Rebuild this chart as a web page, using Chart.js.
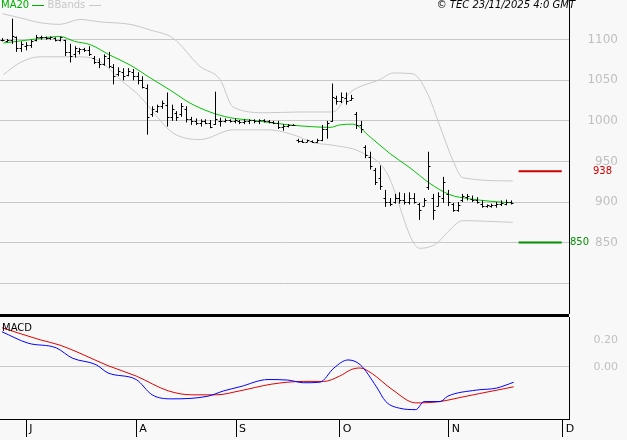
<!DOCTYPE html>
<html><head><meta charset="utf-8">
<script src="https://cdn.jsdelivr.net/npm/chart.js@4.4.1/dist/chart.umd.min.js"></script>
<style>
body{margin:0;background:#f8f8f8;width:627px;height:440px;overflow:hidden;position:relative;font-family:"DejaVu Sans",sans-serif}
#c1{position:absolute;left:0;top:0}
#c2{position:absolute;left:0;top:317px}
#sep{position:absolute;left:0;top:314px;width:569px;height:3px;background:#000}
.t{position:absolute;font-size:10px;white-space:nowrap}
</style></head><body>
<canvas id="c1" width="627" height="314"></canvas>
<div id="sep"></div>
<canvas id="c2" width="627" height="123"></canvas>
<div class="t" style="left:1px;top:-1px;color:#00b000">MA20 <span style="display:inline-block;width:12px;border-top:1px solid #00b000;vertical-align:middle"></span> <span style="color:#c8c8c8">BBands <span style="display:inline-block;width:12px;border-top:1px solid #c8c8c8;vertical-align:middle"></span></span></div>
<div class="t" style="right:52px;top:-1px;font-style:italic;color:#000">© TEC 23/11/2025 4:0 GMT</div>
<div class="t" style="left:2px;top:322px;color:#000">MACD</div>
<script>
const barIdx=[];for(let i=-5;i<=100;i++)barIdx.push(i);
const highs=[1102,1101,1126,1104,1098,1097,1100,1106,1105,1104,1104,1103,1104,1100,1095,1092,1090,1090,1092,1080,1077,1082,1085,1070,1066,1065,1065,1064,1060,1055,1045,1018,1020,1025,1035,1020,1012,1022,1018,1005,1003,1002,1002,1001,1036,1004,1003,1002,1003,1001,1002,1002,1002,1002,1002,1001,1000,1000,996,996,996,978,977,977,976,978,995,1000,1046,1031,1035,1035,1032,1011,1000,970,962,942,945,915,905,910,912,911,912,911,899,905,962,910,912,931,915,899,900,910,910,908,906,902,897,898,900,902,903,902];
const lows=[1098,1097,1095,1085,1085,1087,1090,1098,1100,1100,1100,1098,1098,1080,1072,1078,1082,1085,1080,1070,1065,1068,1065,1045,1055,1050,1055,1050,1045,1040,983,1005,1010,1015,993,1000,1000,1005,998,995,995,993,996,991,995,993,998,998,997,996,996,996,997,996,998,997,996,990,988,992,994,973,973,974,973,973,975,978,999,1020,1022,1020,1025,990,985,954,940,921,915,894,895,898,898,897,897,898,878,895,915,878,895,899,895,888,888,900,902,900,898,893,893,893,893,895,896,897];
const opens=[1100,1099,1100,1103,1090,1092,1094,1100,1104,1103,1102,1102,1100,1100,1085,1082,1086,1088,1087,1078,1072,1070,1078,1066,1058,1060,1056,1060,1055,1050,1040,1008,1012,1018,1020,1005,1010,1008,1015,1002,1000,998,1000,998,996,1000,1000,1001,1000,1000,999,1000,1001,1000,1001,1000,999,998,992,994,995,976,975,974,975,974,977,990,1000,1028,1025,1028,1026,1008,995,968,955,940,930,905,900,900,905,902,900,905,898,895,918,905,895,905,910,898,890,902,906,904,902,898,895,895,896,897,898,900];
const closes=[1100,1100,1105,1090,1095,1094,1098,1104,1103,1102,1103,1100,1103,1085,1080,1090,1088,1087,1082,1072,1070,1080,1068,1055,1062,1055,1062,1055,1050,1042,1005,1015,1018,1022,1005,1015,1005,1018,1002,1000,998,1000,998,993,1002,1000,1001,1000,1001,999,1000,1001,1000,1001,1000,999,998,992,994,995,995,975,974,976,974,977,990,998,1030,1025,1030,1025,1028,995,990,958,945,925,920,900,898,905,902,900,905,900,890,902,945,890,908,925,900,890,896,908,908,902,900,895,896,896,897,899,900,899];
const maIdx=[-4.7,0.8,7,10,13.2,17.3,21.4,25.6,29.7,33.8,37.9,42,46.2,50.3,54.4,58.6,62.7,64.7,67.4,71,75,79,83.3,87.4,91.5,95.7,100.4];
const ma20=[1096,1100,1104,1098,1094,1081,1069,1053,1038,1022,1011,1004,1001,998,995,993,992,995,996,980,960,943,923,909,904,901,899];
const bbUpIdx=[-4.9,-1.2,2.9,7,11.1,15.3,21.4,25.6,30.3,35.9,40,42.7,49.7,56.5,63.3,66.8,73,75.7,79.8,82.7,85.4,88,90.1,100.4];
const bbUp=[1132,1127,1121,1119,1125,1122,1119,1112,1102,1067,1051,1017,1010,1011,1011,1035,1051,1059,1058,1035,993,952,930,926];
const bbLoIdx=[-4.7,-1.2,2.9,11.1,15.3,19.4,23.5,27.6,30.3,35.9,42.7,49.7,56.5,58.6,63.3,68.9,74.4,79.8,81.2,84.7,86.8,90.1,100.4];
const bbLo=[1057,1072,1079,1079,1073,1051,1030,1001,985,977,989,989,980,974,970,962,936,851,843,849,862,877,875];
const levels=[{v:938,c:'#d00000'},{v:850,c:'#009000'}];
const priceTicks=[800,850,900,950,1000,1050,1100];
const macdIdx=[-5,0.4,6.2,9.5,14.4,16.9,22.7,26,30.1,37.5,40.8,44.1,49.9,54,57.3,60.6,63.5,66.4,68.9,72.2,74.2,77.1,80.4,82.1,85.4,87,92.8,97,100.6];
const macd=[0.26,0.175,0.14,0.064,0.015,-0.047,-0.096,-0.21,-0.24,-0.22,-0.18,-0.15,-0.096,-0.1,-0.12,-0.116,-0.01,0.05,0.015,-0.146,-0.26,-0.31,-0.32,-0.26,-0.26,-0.22,-0.175,-0.16,-0.116];
const sigIdx=[-5,2.9,7,11.1,16.9,22.7,29.3,34.2,39.2,44.1,50.7,57.3,61.4,64.7,67.2,68.9,71.3,75.5,80.4,85.4,89.5,93.6,100.6];
const signal=[0.29,0.2,0.16,0.1,0.007,-0.07,-0.18,-0.21,-0.21,-0.18,-0.13,-0.11,-0.11,-0.07,-0.02,-0.01,-0.05,-0.17,-0.27,-0.26,-0.23,-0.2,-0.15];
const monthIdx=[0,22.7,43.3,64.7,87.2,110.7];
const monthLbl=['J','A','S','O','N','D'];
const XMIN=-5.4,XMAX=112;

const pts=(xs,ys)=>xs.map((x,i)=>({x,y:ys[i]}));
const ln=(data,color,extra)=>Object.assign({data,borderColor:color,borderWidth:1,pointRadius:0,cubicInterpolationMode:'monotone',fill:false},extra||{});
const noPadY=s=>{s.width=49;s.paddingTop=0;s.paddingBottom=0;};

const ohlc={id:'ohlc',afterDatasetsDraw(ch){
  const c=ch.ctx,xs=ch.scales.x,ys=ch.scales.y;
  c.save();c.strokeStyle='#000';c.lineWidth=1;
  barIdx.forEach((b,i)=>{
    const x=Math.round(xs.getPixelForValue(b))+0.5;
    c.beginPath();c.moveTo(x,ys.getPixelForValue(highs[i]));c.lineTo(x,ys.getPixelForValue(lows[i]));
    const yo=Math.round(ys.getPixelForValue(opens[i]))+0.5,yc=Math.round(ys.getPixelForValue(closes[i]))+0.5;
    c.moveTo(x-2,yo);c.lineTo(x,yo);c.moveTo(x,yc);c.lineTo(x+2,yc);c.stroke();
  });
  c.font='10px "DejaVu Sans"';c.textBaseline='middle';
  levels.forEach((l,k)=>{c.fillStyle=l.c;c.fillText(String(l.v),k==0?593:570,ys.getPixelForValue(l.v));});
  c.restore();
}};

const lvlDs=levels.map(l=>ln([{x:101.6,y:l.v},{x:110.5,y:l.v}],l.c,{borderWidth:2}));
const yTickBase={crossAlign:'far',color:'#c0c0c0',font:{size:12,family:'DejaVu Sans'}};

new Chart(document.getElementById('c1'),{type:'line',
 data:{datasets:[ln(pts(bbUpIdx,bbUp),'#c8c8c8'),ln(pts(bbLoIdx,bbLo),'#c8c8c8'),ln(pts(maIdx,ma20),'#00c000'),...lvlDs]},
 options:{animation:false,responsive:false,events:[],layout:{padding:{right:9}},
  plugins:{legend:{display:false},tooltip:{enabled:false}},
  scales:{
   x:{type:'linear',min:XMIN,max:XMAX,display:false},
   y:{position:'right',min:762,max:1149,afterFit:noPadY,
      afterBuildTicks(s){s.ticks=priceTicks.map(v=>({value:v}))},
      grid:{color:'#c8c8c8',drawTicks:false},border:{color:'#000'},
      ticks:Object.assign({callback:v=>v===800?'':String(v)},yTickBase)}
  }},plugins:[ohlc]});

new Chart(document.getElementById('c2'),{type:'line',
 data:{datasets:[ln(pts(macdIdx,macd),'#0000ff'),ln(pts(sigIdx,signal),'#e00000')]},
 options:{animation:false,responsive:false,events:[],layout:{padding:{right:9}},
  plugins:{legend:{display:false},tooltip:{enabled:false}},
  scales:{
   x:{type:'linear',min:XMIN,max:XMAX,afterFit(s){s.height=21;s.paddingLeft=0;s.paddingRight=0;},
      afterBuildTicks(s){s.ticks=monthIdx.map(v=>({value:v}))},
      grid:{drawOnChartArea:false,tickLength:18,color:'#000'},border:{color:'#000'},
      ticks:{align:'start',padding:-14,labelOffset:3,color:'#000',font:{size:11,family:'DejaVu Sans'},autoSkip:false,maxRotation:0,
        callback:(v,i)=>monthLbl[i]}},
   y:{position:'right',min:-0.39,max:0.37,afterFit:noPadY,
      afterBuildTicks(s){s.ticks=[0,0.2].map(v=>({value:v}))},
      grid:{color:c=>c.tick&&c.tick.value===0?'#c8c8c8':'transparent',drawTicks:false},border:{color:'#000'},
      ticks:Object.assign({callback:v=>v.toFixed(2)},yTickBase,{font:{size:11,family:'DejaVu Sans'}})}
  }}});
</script></body></html>
